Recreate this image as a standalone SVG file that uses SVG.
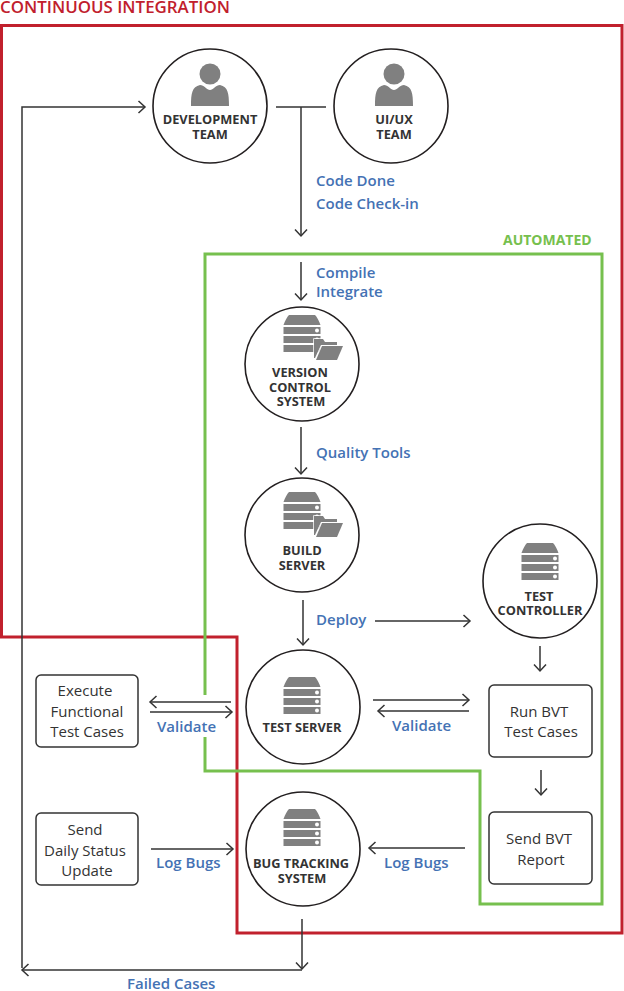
<svg xmlns="http://www.w3.org/2000/svg" width="624" height="991" viewBox="0 0 624 991">
<style>
text{font-family:"Open Sans","Noto Sans","Liberation Sans",sans-serif}
.n{fill:#fff;stroke:#231f20;stroke-width:1.6}
.b{fill:#fff;stroke:#333;stroke-width:1.5}
.t{font-size:12.8px;font-weight:700;fill:#333;text-anchor:middle}
.x{font-size:15px;fill:#333;text-anchor:middle}
.l{font-size:15px;font-weight:600;fill:#4472b4}
.g{fill:#808080}
.c path{fill:none;stroke:#333;stroke-width:1.5}
.f{fill:none;stroke-width:3}
</style>
<defs>
<marker id="a" viewBox="0 0 14 14" refX="12" refY="7" markerWidth="14" markerHeight="14" markerUnits="userSpaceOnUse" orient="auto"><path d="M5.500 1 L12 7 L5.500 13" fill="none" stroke="#333" stroke-width="1.500"/></marker>
<g id="person"><circle cx="0" cy="-10" r="10.500" class="g"/><path class="g" d="M-19 22 C-19 9 -18 3 -10 1 C-6 1 -3 6 0 6 C3 6 6 1 10 1 C18 3 19 9 19 22 Z"/></g>
<g id="server"><path class="g" d="M-13 -19 L13 -19 C15 -17 17 -13 18.500 -9 L-18.500 -9 C-17 -13 -15 -17 -13 -19 Z"/><rect class="g" x="-18.500" y="-7" width="37" height="7"/><rect class="g" x="-18.500" y="2" width="37" height="7"/><rect class="g" x="-18.500" y="11" width="37" height="7"/><circle cx="15" cy="-3.500" r="2" fill="#fff"/><circle cx="15" cy="5.500" r="2" fill="#fff"/><circle cx="15" cy="14.500" r="2" fill="#fff"/></g>
<g id="folder" stroke="#fff" stroke-width="1.500" paint-order="stroke"><path class="g" d="M-14 -10 L-5 -10 L-3 -7 L9 -7 L9 -4 L-7 -4 L-13 9 L-14 9 Z"/><path class="g" d="M-6 -3 L15 -3 L9 11 L-12 11 Z"/></g>
</defs>

<g id="frames">
<path class="f" stroke="#c1202d" d="M1.500 25.500H622V933H237V637H1.500Z"/>
<path class="f" stroke="#76c04e" d="M205 695V254H602V904H480V771H205V737"/>
<text x="0" y="13" font-size="16.900" font-weight="600" fill="#c1202d">CONTINUOUS INTEGRATION</text>
<text x="503" y="245" font-size="14" font-weight="700" fill="#76c04e">AUTOMATED</text>
</g>

<g class="c" id="connectors">
<path d="M22 968V107H145" marker-end="url(#a)"/>
<path d="M276 107H326"/>
<path d="M301 107V236" marker-end="url(#a)"/>
<path d="M301 262V300" marker-end="url(#a)"/>
<path d="M301 427V474" marker-end="url(#a)"/>
<path d="M303 600V645" marker-end="url(#a)"/>
<path d="M375 621H470" marker-end="url(#a)"/>
<path d="M540 646V671" marker-end="url(#a)"/>
<path d="M541 770V795" marker-end="url(#a)"/>
<path d="M373 700H469" marker-end="url(#a)"/>
<path d="M469 711H378" marker-end="url(#a)"/>
<path d="M231 702H150" marker-end="url(#a)"/>
<path d="M150 712H232" marker-end="url(#a)"/>
<path d="M151 849H233" marker-end="url(#a)"/>
<path d="M465 848H369" marker-end="url(#a)"/>
<path d="M302 919V969" marker-end="url(#a)"/>
<path d="M302 970H22" marker-end="url(#a)"/>
</g>

<g id="labels">
<text class="l" x="316" y="186">Code Done</text>
<text class="l" x="316" y="209">Code Check-in</text>
<text class="l" x="316" y="278">Compile</text>
<text class="l" x="316" y="297">Integrate</text>
<text class="l" x="316" y="458">Quality Tools</text>
<text class="l" x="316" y="625">Deploy</text>
<text class="l" x="157" y="732">Validate</text>
<text class="l" x="392" y="731">Validate</text>
<text class="l" x="156" y="868">Log Bugs</text>
<text class="l" x="384" y="868">Log Bugs</text>
<text class="l" x="127" y="989">Failed Cases</text>
</g>

<g id="development-team"><circle class="n" cx="210" cy="106" r="57"/><use href="#person" x="210" y="84"/><text class="t" x="210" y="124">DEVELOPMENT</text><text class="t" x="210" y="139">TEAM</text></g>
<g id="uiux-team"><circle class="n" cx="391" cy="106" r="57"/><use href="#person" x="394" y="84"/><text class="t" x="394" y="124">UI/UX</text><text class="t" x="394" y="139">TEAM</text></g>
<g id="version-control"><circle class="n" cx="302" cy="364" r="57"/><use href="#server" x="302" y="334"/><use href="#folder" x="328" y="349"/><text class="t" x="300" y="377">VERSION</text><text class="t" x="300" y="392">CONTROL</text><text class="t" x="301" y="406">SYSTEM</text></g>
<g id="build-server"><circle class="n" cx="302" cy="535" r="57"/><use href="#server" x="302" y="511"/><use href="#folder" x="328" y="526"/><text class="t" x="302" y="555">BUILD</text><text class="t" x="302" y="570">SERVER</text></g>
<g id="test-controller"><circle class="n" cx="540" cy="581" r="57"/><use href="#server" x="540" y="562"/><text class="t" x="539" y="601">TEST</text><text class="t" x="540" y="615">CONTROLLER</text></g>
<g id="test-server"><circle class="n" cx="303" cy="707" r="57"/><use href="#server" x="302" y="696"/><text class="t" x="302" y="732">TEST SERVER</text></g>
<g id="bug-tracking"><circle class="n" cx="303" cy="849" r="57"/><use href="#server" x="302" y="828"/><text class="t" x="301" y="868">BUG TRACKING</text><text class="t" x="302" y="883">SYSTEM</text></g>

<g id="execute-functional"><rect class="b" x="36" y="675" width="102" height="72" rx="5"/><text class="x" x="85" y="696">Execute</text><text class="x" x="87" y="717">Functional</text><text class="x" x="87" y="737">Test Cases</text></g>
<g id="send-daily"><rect class="b" x="36" y="813" width="102" height="72" rx="5"/><text class="x" x="85" y="835">Send</text><text class="x" x="85" y="856">Daily Status</text><text class="x" x="87" y="876">Update</text></g>
<g id="run-bvt"><rect class="b" x="489" y="685" width="103" height="72" rx="5"/><text class="x" x="539" y="717">Run BVT</text><text class="x" x="541" y="737">Test Cases</text></g>
<g id="send-bvt"><rect class="b" x="489" y="812" width="103" height="72" rx="5"/><text class="x" x="539" y="844">Send BVT</text><text class="x" x="541" y="865">Report</text></g>
</svg>
